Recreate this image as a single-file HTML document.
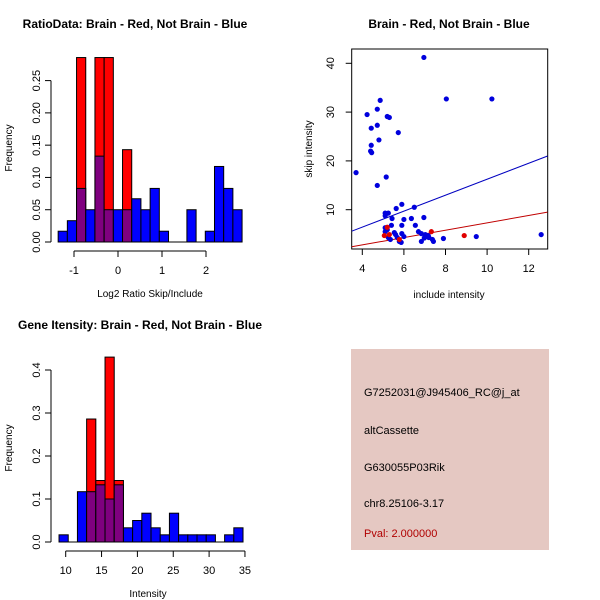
<!DOCTYPE html>
<html><head><meta charset="utf-8"><style>
body{margin:0;background:#fff;}
svg{display:block;font-family:"Liberation Sans",sans-serif;}
</style></head><body>
<svg id="c" width="600" height="600" viewBox="0 0 600 600">
<rect width="600" height="600" fill="#fff"/>
<g>
<rect x="351" y="349" width="198" height="201" fill="#e5c8c2"/>
<text x="364" y="396" font-size="11">G7252031@J945406_RC@j_at</text>
<text x="364" y="434" font-size="11">altCassette</text>
<text x="364" y="471" font-size="11">G630055P03Rik</text>
<text x="364" y="507" font-size="11">chr8.25106-3.17</text>
<text x="364" y="537" font-size="11" fill="#b00000">Pval: 2.000000</text>
</g>
</svg>
<script>
const NS="http://www.w3.org/2000/svg";
const svg=document.getElementById('c');
function mk(t,a,p){const e=document.createElementNS(NS,t);for(const k in a)e.setAttribute(k,a[k]);(p||svg).appendChild(e);return e;}

// ---- Ratio histogram data ----
const ratioBinStart=-1.36, ratioBinWidth=0.209;
const ratioBlue=[0.0167,0.033,0.083,0.05,0.133,0.05,0.05,0.05,0.067,0.05,0.083,0.0167,0,0,0.05,0,0.0167,0.117,0.083,0.05];
const ratioRed=[0,0,0.2857,0,0.2857,0.2857,0,0.143,0,0,0,0,0,0,0,0,0,0,0,0];
const ratioXTicks=[-1,0,1,2];
const ratioYTicks=[0,0.05,0.10,0.15,0.20,0.25];
const ratioYLabels=["0.00","0.05","0.10","0.15","0.20","0.25"];

// ---- Intensity histogram data ----
const intBinStart=9.07, intBinWidth=1.283;
const intBlue=[0.0167,0,0.117,0.117,0.133,0.1,0.133,0.033,0.05,0.067,0.033,0.0167,0.067,0.0167,0.0167,0.0167,0.0167,0,0.0167,0.033];
const intRed=[0,0,0,0.286,0.143,0.43,0.143,0,0,0,0,0,0,0,0,0,0,0,0,0];
const intXTicks=[10,15,20,25,30,35];
const intYTicks=[0,0.1,0.2,0.3,0.4];
const intYLabels=["0.0","0.1","0.2","0.3","0.4"];

// ---- Scatter data ----
const blueX=[3.7,4.23,4.43,4.43,4.4,4.45,4.72,4.72,4.86,4.8,4.72,5.15,5.2,5.3,5.73,6.96,8.04,10.23,12.6,9.48,7.9,5.1,5.25,5.1,5.63,5.9,6.5,5.43,6.0,6.36,6.96,5.9,6.55,5.4,5.1,5.2,5.1,5.54,5.6,5.9,6.0,5.25,5.35,5.78,5.87,5.68,6.84,6.98,6.7,6.84,7.03,7.17,7.2,7.37,7.42,7.12];
const blueY=[17.6,29.5,26.7,23.2,22.0,21.7,30.6,27.3,32.4,24.3,14.97,16.7,29.1,28.9,25.8,41.2,32.7,32.7,4.9,4.5,4.1,9.3,9.3,8.75,10.25,11.1,10.5,8.2,8.0,8.2,8.4,6.8,6.8,6.8,6.3,5.9,5.5,5.3,4.9,5.1,4.5,4.3,3.9,3.5,3.3,4.3,3.5,4.2,5.5,5.1,4.9,4.7,4.3,3.9,3.5,4.5];
const redX=[5.06,5.3,5.2,7.32,8.9,5.78];
const redY=[4.7,4.9,6.4,5.5,4.7,3.9];
const blueLine=[[3.49,5.6],[12.91,21.0]];
const redLine=[[3.49,2.4],[12.91,9.5]];
const scXTicks=[4,6,8,10,12];
const scYTicks=[10,20,30,40];

function hist(o){
  const g=mk('g',{});
  
  
  const sx=v=>o.x0+(v-o.v0)*o.kx, sy=v=>o.y0-v*o.ky;
  for(let i=0;i<o.blue.length;i++){
    const l=sx(o.start+i*o.w), r=sx(o.start+(i+1)*o.w);
    if(o.red[i]>0){
      const e=mk('rect',{x:l,y:sy(o.red[i]),width:r-l,height:o.red[i]*o.ky,fill:'#ff0000',stroke:'#000','stroke-width':1},g);
      
      
    }
    if(o.blue[i]>0){
      const e=mk('rect',{x:l,y:sy(o.blue[i]),width:r-l,height:o.blue[i]*o.ky,fill:o.red[i]>0?'#7f007f':'#0000ff',stroke:'#000','stroke-width':1},g);
      
      
    }
  }
  mk('line',{x1:sx(o.start),x2:sx(o.start+o.blue.length*o.w),y1:o.y0,y2:o.y0,stroke:'#000'},g);
  const xa=mk('g',{},g);
  
  
  const ay=o.y0+9;
  mk('line',{x1:sx(o.xt[0]),x2:sx(o.xt[o.xt.length-1]),y1:ay,y2:ay,stroke:'#000'},xa);
  o.xt.forEach(t=>{mk('line',{x1:sx(t),x2:sx(t),y1:ay,y2:ay+6,stroke:'#000'},xa);
    const tx=mk('text',{x:sx(t),y:ay+23,'font-size':11,'text-anchor':'middle'},xa);tx.textContent=t;});
  const ya=mk('g',{},g);
  
  
  const ax=51;
  mk('line',{x1:ax,x2:ax,y1:sy(o.yt[0]),y2:sy(o.yt[o.yt.length-1]),stroke:'#000'},ya);
  o.yt.forEach((t,i)=>{mk('line',{x1:ax,x2:ax-6,y1:sy(t),y2:sy(t),stroke:'#000'},ya);
    const tx=mk('text',{x:ax-11,y:sy(t),'font-size':11,'text-anchor':'middle',transform:`rotate(-90 ${ax-11} ${sy(t)})`},ya);tx.textContent=o.yl[i];});
  const yt=mk('text',{x:12,y:o.ylabY,'font-size':10,'text-anchor':'middle',transform:`rotate(-90 12 ${o.ylabY})`},g);yt.textContent='Frequency';
  
  const xt=mk('text',{x:o.xlabX,y:o.xlabY,'font-size':10,'text-anchor':'middle'},g);xt.textContent=o.xlab;
  
  const tt=mk('text',{x:o.titleX,y:o.titleY,'font-size':12,'font-weight':'bold','text-anchor':'middle'},g);tt.textContent=o.title;
  
}
hist({name:'ratio-histogram',blue:ratioBlue,red:ratioRed,start:ratioBinStart,w:ratioBinWidth,x0:118,v0:0,kx:44,y0:242,ky:645.6,
  xt:ratioXTicks,yt:ratioYTicks,yl:ratioYLabels,xlab:'Log2 Ratio Skip/Include',xlabX:150,xlabY:297,ylabY:148,
  title:'RatioData: Brain - Red, Not Brain - Blue',titleX:135,titleY:28});
hist({name:'intensity-histogram',blue:intBlue,red:intRed,start:intBinStart,w:intBinWidth,x0:65.7,v0:10,kx:7.17,y0:542,ky:430,
  xt:intXTicks,yt:intYTicks,yl:intYLabels,xlab:'Intensity',xlabX:148,xlabY:597,ylabY:448,
  title:'Gene Itensity: Brain - Red, Not Brain - Blue',titleX:140,titleY:329});

(function(){
  const g=mk('g',{});
  
  
  const sx=v=>362.3+(v-4)*20.8, sy=v=>258.5-v*4.88;
  mk('rect',{x:351.7,y:49,width:196,height:200,fill:'none',stroke:'#000'},g);
  const cp=mk('clipPath',{id:'cp'},g);mk('rect',{x:351.7,y:49,width:196,height:200},cp);
  const bl=mk('line',{x1:sx(blueLine[0][0]),y1:sy(blueLine[0][1]),x2:sx(blueLine[1][0]),y2:sy(blueLine[1][1]),stroke:'#0000c0','clip-path':'url(#cp)'},g);
  
  const rl=mk('line',{x1:sx(redLine[0][0]),y1:sy(redLine[0][1]),x2:sx(redLine[1][0]),y2:sy(redLine[1][1]),stroke:'#c00000','clip-path':'url(#cp)'},g);
  
  blueX.forEach((x,i)=>{const c=mk('circle',{cx:sx(x),cy:sy(blueY[i]),r:2.6,fill:'#0000dd'},g);
    });
  redX.forEach((x,i)=>{const c=mk('circle',{cx:sx(x),cy:sy(redY[i]),r:2.6,fill:'#e00000'},g);
    });
  const xa=mk('g',{},g);
  scXTicks.forEach(t=>{mk('line',{x1:sx(t),x2:sx(t),y1:249,y2:255,stroke:'#000'},xa);
    const tx=mk('text',{x:sx(t),y:272,'font-size':11,'text-anchor':'middle'},xa);tx.textContent=t;});
  const ya=mk('g',{},g);
  scYTicks.forEach(t=>{mk('line',{x1:351.7,x2:345.7,y1:sy(t),y2:sy(t),stroke:'#000'},ya);
    const tx=mk('text',{x:334,y:sy(t),'font-size':11,'text-anchor':'middle',transform:`rotate(-90 334 ${sy(t)})`},ya);tx.textContent=t;});
  const xt=mk('text',{x:449,y:298,'font-size':10,'text-anchor':'middle'},g);xt.textContent='include intensity';
  
  const yt=mk('text',{x:312,y:149,'font-size':10,'text-anchor':'middle',transform:'rotate(-90 312 149)'},g);yt.textContent='skip intensity';
  
  const tt=mk('text',{x:449,y:28,'font-size':12,'font-weight':'bold','text-anchor':'middle'},g);tt.textContent='Brain - Red, Not Brain - Blue';
  
})();
</script>
</body></html>
